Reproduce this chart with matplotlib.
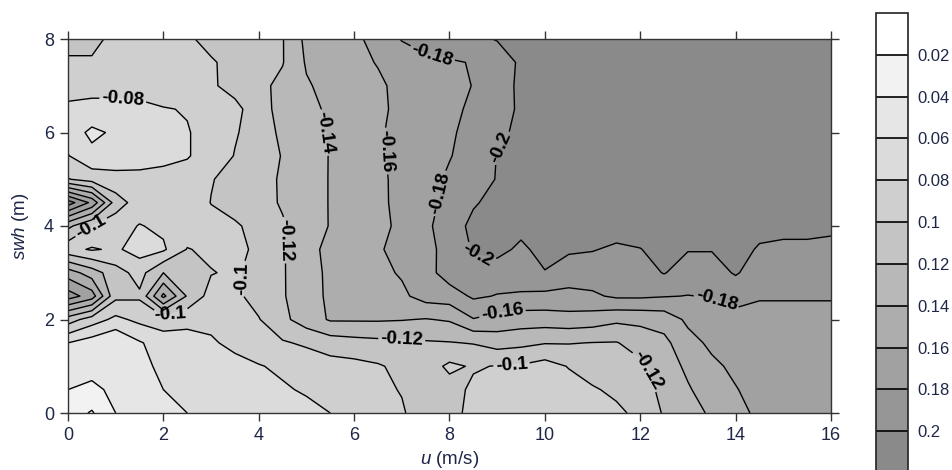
import numpy as np
import matplotlib
matplotlib.use('Agg')
import matplotlib.pyplot as plt
from matplotlib.ticker import FuncFormatter

plt.rcParams['font.family'] = ['Liberation Sans', 'DejaVu Sans']
plt.rcParams['mathtext.fontset'] = 'custom'
plt.rcParams['mathtext.it'] = 'Liberation Sans:italic'
plt.rcParams['mathtext.rm'] = 'Liberation Sans'
plt.rcParams['contour.negative_linestyle'] = 'solid'

# grid coordinates
u_vals = [0, 0.5, 1, 1.5, 2, 2.5, 3, 3.5, 4, 4.5, 5, 5.5, 6, 6.5, 7, 7.5, 8,
          8.5, 9, 9.5, 10, 10.5, 11, 11.5, 12, 12.5, 13, 13.5, 14, 14.5, 15, 15.5, 16]
swh_vals = [8, 7.5, 7, 6.5, 6, 5.5, 5, 4.5, 4, 3.5, 3, 2.5, 2, 1.5, 1, 0.5, 0]

# magnitude of the field in hundredths (plotted as negative), one row per swh, top row first
mag = [
    [10.5, 10.5, 9.5, 9.2, 9.2, 9.7, 10.6, 11.0, 11.5, 11.9, 14.5, 15.0, 15.5, 16.8, 18.1, 18.7, 19.2, 19.6, 20.1, 21, 21, 21, 21, 21, 21, 21, 21, 21, 21, 21, 21, 21, 21],
    [9.8, 9.8, 9.3, 9.1, 9.1, 9.4, 9.8, 10.6, 11.4, 11.9, 14.2, 14.8, 15.5, 16.1, 17.0, 17.6, 17.8, 18.1, 19.0, 20.3, 21, 21, 21, 21, 21, 21, 21, 21, 21, 21, 21, 21, 21],
    [8.8, 8.8, 8.8, 8.8, 9.0, 9.4, 9.8, 10.5, 11.5, 12.5, 13.8, 14.6, 15.2, 15.7, 16.5, 17.0, 17.5, 18.05, 19.3, 20.3, 21, 21, 21, 21, 21, 21, 21, 21, 21, 21, 21, 21, 21],
    [7.6, 7.3, 7.3, 7.5, 7.9, 8.1, 8.9, 9.6, 10.8, 13.0, 13.5, 14.3, 15.0, 15.6, 16.5, 17.0, 17.6, 18.3, 19.2, 20.3, 21, 21, 21, 21, 21, 21, 21, 21, 21, 21, 21, 21, 21],
    [7.0, 5.6, 6.3, 7.0, 7.3, 7.9, 8.6, 9.8, 11.0, 12.4, 13.3, 14.2, 15.0, 15.8, 16.5, 17.0, 17.7, 18.7, 19.5, 20.5, 21, 21, 21, 21, 21, 21, 21, 21, 21, 21, 21, 21, 21],
    [8.1, 6.5, 7.0, 7.4, 7.6, 7.9, 8.6, 10.1, 11.0, 12.1, 13.0, 14.1, 15.1, 15.8, 16.4, 17.0, 17.9, 18.8, 20.05, 20.5, 21, 21, 21, 21, 21, 21, 21, 21, 21, 21, 21, 21, 21],
    [10.1, 9.2, 8.6, 8.4, 8.5, 8.6, 9.9, 10.6, 11.4, 12.2, 13.1, 14.1, 15.0, 15.7, 16.4, 17.3, 18.3, 19.1, 20.1, 20.8, 21, 21, 21, 21, 21, 21, 21, 21, 21, 21, 21, 21, 21],
    [21.0, 17.5, 11.0, 9.0, 8.6, 8.8, 10.05, 10.6, 11.3, 12.2, 13.1, 14.1, 15.0, 15.6, 16.5, 17.5, 18.5, 19.8, 20.6, 21, 21, 21, 21, 21, 21, 21, 21, 21, 21, 21, 21, 21, 21],
    [12.5, 10.05, 8.8, 7.9, 8.4, 8.8, 9.4, 9.8, 10.5, 11.8, 13.0, 14.1, 14.8, 15.5, 16.4, 17.6, 19.0, 20.5, 20.8, 20.6, 21, 21, 21, 20.8, 20.8, 21, 21, 21, 21, 20.6, 20.4, 20.4, 20.3],
    [8.6, 7.8, 8.3, 7.2, 7.7, 10.1, 9.6, 9.2, 10.6, 11.8, 13.5, 14.4, 15.0, 15.8, 16.6, 17.5, 18.6, 20.2, 20.6, 19.6, 20.7, 20.3, 20.1, 19.7, 19.95, 20.6, 20.1, 20.1, 20.7, 19.8, 19.7, 19.7, 19.6],
    [15.0, 13.0, 10.8, 9.3, 12.0, 11.5, 10.1, 9.7, 10.8, 11.8, 13.4, 14.3, 15.0, 15.5, 16.2, 17.2, 19.0, 19.3, 19.0, 19.7, 19.9, 18.9, 19.0, 19.0, 19.2, 20.1, 19.1, 19.1, 20.2, 19.0, 19.0, 19.0, 18.9],
    [19.0, 17.0, 10.5, 10.3, 16.5, 11.8, 9.2, 9.6, 10.7, 11.8, 13.3, 14.3, 14.7, 15.0, 15.6, 16.8, 17.0, 18.3, 17.9, 17.6, 17.5, 17.5, 17.7, 18.3, 18.3, 18.1, 17.95, 18.1, 18.5, 18.1, 18.1, 18.1, 18.1],
    [11.0, 9.0, 7.5, 8.5, 9.0, 8.5, 8.4, 9.0, 9.9, 11.5, 13.0, 14.2, 14.2, 14.2, 14.1, 13.9, 14.2, 15.9, 15.3, 15.0, 15.0, 15.2, 15.0, 14.4, 14.5, 14.8, 16.4, 17.2, 17.5, 17.6, 17.6, 17.6, 17.6],
    [6.0, 5.0, 4.0, 5.8, 7.0, 7.3, 7.8, 8.4, 9.0, 9.8, 10.3, 11.0, 11.3, 11.5, 11.6, 11.8, 11.9, 12.1, 12.8, 12.5, 12.1, 12.1, 11.95, 11.9, 12.8, 13.5, 15.3, 16.4, 16.9, 17.3, 17.3, 17.3, 17.3],
    [5.0, 4.8, 5.0, 5.5, 6.4, 6.8, 7.3, 7.5, 7.9, 8.3, 8.8, 9.2, 9.4, 9.8, 10.5, 11.0, 9.6, 10.2, 9.9, 9.8, 9.2, 10.1, 10.9, 11.2, 11.6, 13.0, 14.4, 15.6, 16.4, 17.0, 17.1, 17.1, 17.1],
    [4.0, 3.5, 4.5, 5.0, 6.0, 6.3, 6.8, 7.0, 7.4, 7.8, 8.2, 8.6, 9.0, 9.6, 10.1, 11.2, 10.8, 9.6, 9.0, 9.3, 9.0, 9.2, 9.8, 10.4, 11.0, 12.6, 13.8, 15.0, 15.9, 16.7, 17.0, 17.0, 17.0],
    [3.0, 1.8, 4.0, 5.2, 5.8, 6.0, 6.5, 6.8, 7.0, 7.2, 7.5, 8.0, 8.5, 9.5, 9.8, 11.0, 10.8, 9.3, 8.5, 8.8, 8.5, 8.6, 9.0, 9.6, 10.5, 12.2, 13.2, 14.3, 15.4, 16.4, 16.8, 16.8, 16.8],
]

levels = [-0.22, -0.20, -0.18, -0.16, -0.14, -0.12, -0.10, -0.08, -0.06, -0.04, -0.02, 0.0]
grays = ['#8a8a8a', '#969696', '#a1a1a1', '#adadad', '#b8b8b8', '#c4c4c4',
         '#cfcfcf', '#dbdbdb', '#e6e6e6', '#f2f2f2', '#ffffff']

# where the contour labels sit (u, swh)
label_spots = {
    -0.08: [(1.15, 6.7)],
    -0.10: [(0.5, 3.95), (2.1, 2.25), (3.9, 2.9), (9.3, 1.05)],
    -0.12: [(4.6, 3.7), (7.0, 1.6), (12.1, 0.9)],
    -0.14: [(5.4, 6.0)],
    -0.16: [(6.6, 5.6), (9.1, 2.2)],
    -0.18: [(7.6, 7.5), (7.8, 4.7), (13.6, 2.4)],
    -0.20: [(9.2, 5.6), (8.6, 3.4)],
}

U = np.array(u_vals)
S = np.array(swh_vals)[::-1]
Z = -np.flipud(np.array(mag)) / 100.0

text_col = '#1f2747'

fig = plt.figure(figsize=(9.53, 4.70), dpi=100)
ax = fig.add_axes([68 / 953, 57 / 470, 763 / 953, 374 / 470])

cf = ax.contourf(U, S, Z, levels=levels, colors=grays)

# one contour set per level so each can get its own hand-placed labels
for lev in levels[1:-1]:
    cs = ax.contour(U, S, Z, levels=[lev], colors='k', linewidths=1.0,
                    linestyles='solid')
    spots = label_spots.get(round(lev, 2))
    if spots:
        txts = ax.clabel(cs, manual=spots, inline=True, inline_spacing=2,
                         fmt='%g', fontsize=13.5)
        for t in txts:
            t.set_fontweight('bold')
            t.set_color('k')

ax.set_xlim(0, 16)
ax.set_ylim(0, 8)
ax.set_xticks([0, 2, 4, 6, 8, 10, 12, 14, 16])
ax.set_yticks([0, 2, 4, 6, 8])
ax.tick_params(direction='out', top=True, right=True, length=6, width=1,
               labelsize=13, pad=4, colors='#333333', labelcolor=text_col)
for sp in ax.spines.values():
    sp.set_color('#333333')
    sp.set_linewidth(1)

ax.set_xlabel(r'$\it{u}$ (m/s)', fontsize=13.5, color=text_col, labelpad=4)
ax.set_ylabel(r'$\it{swh}$ (m)', fontsize=13.5, color=text_col, labelpad=9)

cax = fig.add_axes([876 / 953, -3 / 470, 32 / 953, 460 / 470])
cb = fig.colorbar(cf, cax=cax, drawedges=True, ticks=levels[1:-1])
cb.ax.yaxis.set_major_formatter(FuncFormatter(lambda v, p: f'{abs(v):g}'))
cb.ax.tick_params(length=0, labelsize=12, pad=7, labelcolor=text_col)
cb.dividers.set_color('k')
cb.dividers.set_linewidth(1.2)
cb.outline.set_edgecolor('#222222')
cb.outline.set_linewidth(1.2)

fig.savefig('out.png', dpi=100)
